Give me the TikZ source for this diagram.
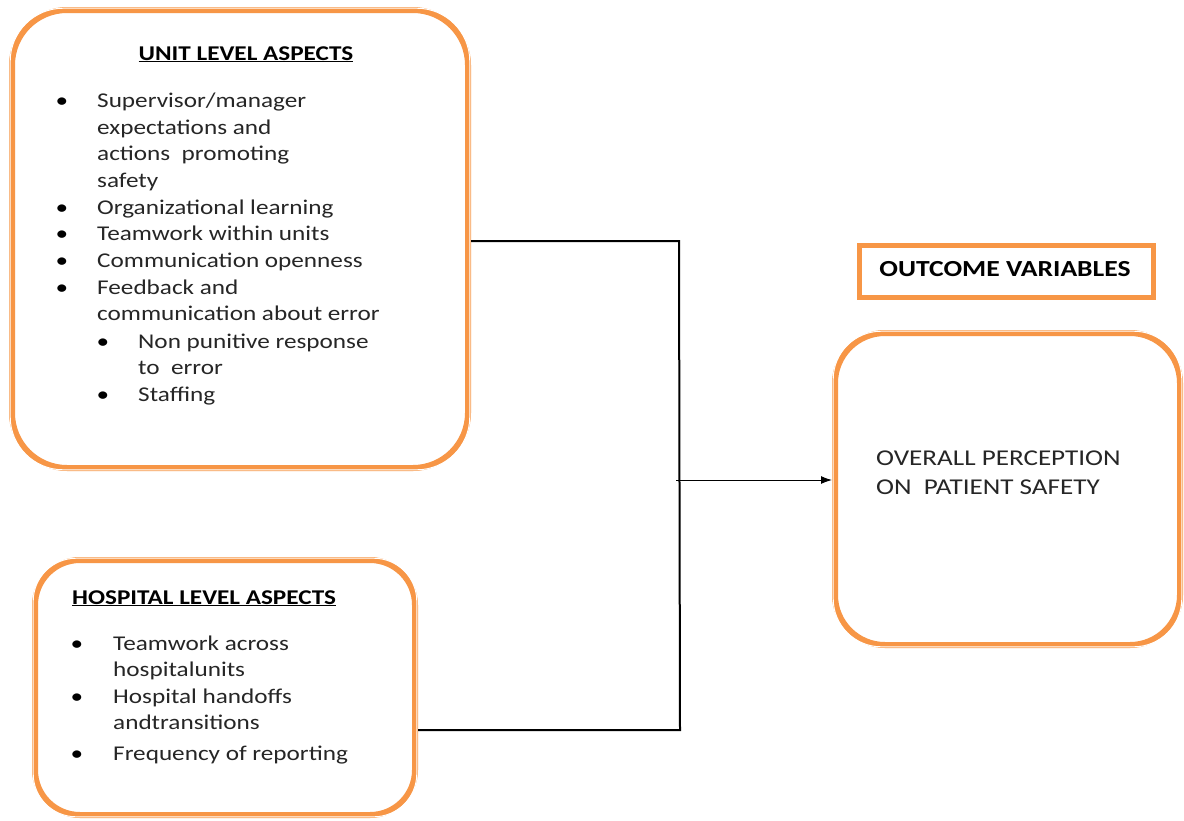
\documentclass[tikz,border=0pt]{standalone}
\usepackage{fontspec}
\setmainfont{Carlito}[FakeStretch=1.2]
\usetikzlibrary{arrows.meta}
\definecolor{acc}{HTML}{F79646}
\tikzset{
  rbox/.style={draw=acc, line width=6pt, rounded corners=#1, inner sep=0pt, fill=white},
  inner white/.style={draw=white, line width=1pt, rounded corners=#1},
  sqbox/.style={draw=acc, line width=5pt, inner sep=0pt},
  txt/.style={anchor=base west, inner sep=0pt, font=\fontsize{21}{26}\selectfont, text=black!85},
  bigtxt/.style={txt, font=\fontsize{22.6}{28}\selectfont},
  bul/.style={anchor=base, inner sep=0pt, font=\fontsize{21}{26}\selectfont},
  head/.style={inner sep=0pt, font=\bfseries\fontsize{21}{24}\selectfont},
  conn/.style={draw=black, line width=2pt},
  arr/.style={draw=black, line width=1pt, -{Latex[length=11pt,width=8pt]}}
}
\newcommand\txtline[3]{\node[txt] (#1) at (#2) {#3};}
\newcommand\bulat[2]{\node[bul] (#1) at (#2) {\textbullet};}
\begin{document}
\begin{tikzpicture}[x=1pt,y=-1pt]
\useasboundingbox (0,0) rectangle (1184,820);
% boxes
\node[rbox=55pt, minimum width=456pt, minimum height=458pt] (unit) at (240,239) {};
\draw[inner white=53pt] ([shift={(1.2,1.2)}]unit.north west) rectangle ([shift={(-1.2,-1.2)}]unit.south east);
\node[rbox=45pt, minimum width=380pt, minimum height=255pt] (hosp) at (225,687.5) {};
\draw[inner white=43pt] ([shift={(1.2,1.2)}]hosp.north west) rectangle ([shift={(-1.2,-1.2)}]hosp.south east);
\node[rbox=50pt, minimum width=345pt, minimum height=312pt] (overall) at (1007.5,489) {};
\draw[inner white=48pt] ([shift={(1.2,1.2)}]overall.north west) rectangle ([shift={(-1.2,-1.2)}]overall.south east);
\node[sqbox, minimum width=294pt, minimum height=52pt] (outcome) at (1006.5,271.5) {};
% headings
\node[head, anchor=base] (uh) at (246,60) {\underline{UNIT LEVEL ASPECTS}};
\node[head, anchor=base west] (hh) at (72,604) {\underline{HOSPITAL LEVEL ASPECTS}};
\node[head, anchor=base, font=\bfseries\fontsize{23}{26}\selectfont] (oh) at (1005,276) {OUTCOME VARIABLES};
% unit items
\bulat{b1}{62,107}
\txtline{u1}{97,107}{Supervisor/manager}
\txtline{u2}{97,134}{expectations and}
\txtline{u3}{97,160}{actions\ \ promoting}
\txtline{u4}{97,187}{safety}
\bulat{b2}{62,214}
\txtline{u5}{97,214}{Organizational learning}
\bulat{b3}{62,240}
\txtline{u6}{97,240}{Teamwork within units}
\bulat{b4}{62,267}
\txtline{u7}{97,267}{Communication openness}
\bulat{b5}{62,294}
\txtline{u8}{97,294}{Feedback and}
\txtline{u9}{97,320}{communication about error}
\bulat{b6}{103,348}
\txtline{u10}{138,348}{Non punitive response}
\txtline{u11}{138,374}{to\ \ error}
\bulat{b7}{103,401}
\txtline{u12}{138,401}{Staffing}
% hospital items
\bulat{c1}{77,650}
\txtline{h1}{113,650}{Teamwork across}
\txtline{h2}{113,676}{hospitalunits}
\bulat{c2}{77,703}
\txtline{h3}{113,703}{Hospital handoffs}
\txtline{h4}{113,729}{andtransitions}
\bulat{c3}{77,760}
\txtline{h5}{113,760}{Frequency of reporting}
% outcome text
\node[bigtxt] (o1) at (876,465) {OVERALL PERCEPTION};
\node[bigtxt] (o2) at (876,494) {ON\ \ PATIENT SAFETY};
% connectors
\coordinate (j1) at (679,241);
\coordinate (j2) at (680,730);
\coordinate (jm) at (676,480);
\draw[conn] (unit.east |- j1) -- (j1) -- (j2) -- (hosp.east |- j2);
\draw[arr] (jm) -- (overall.west |- jm);
\end{tikzpicture}
\end{document}
